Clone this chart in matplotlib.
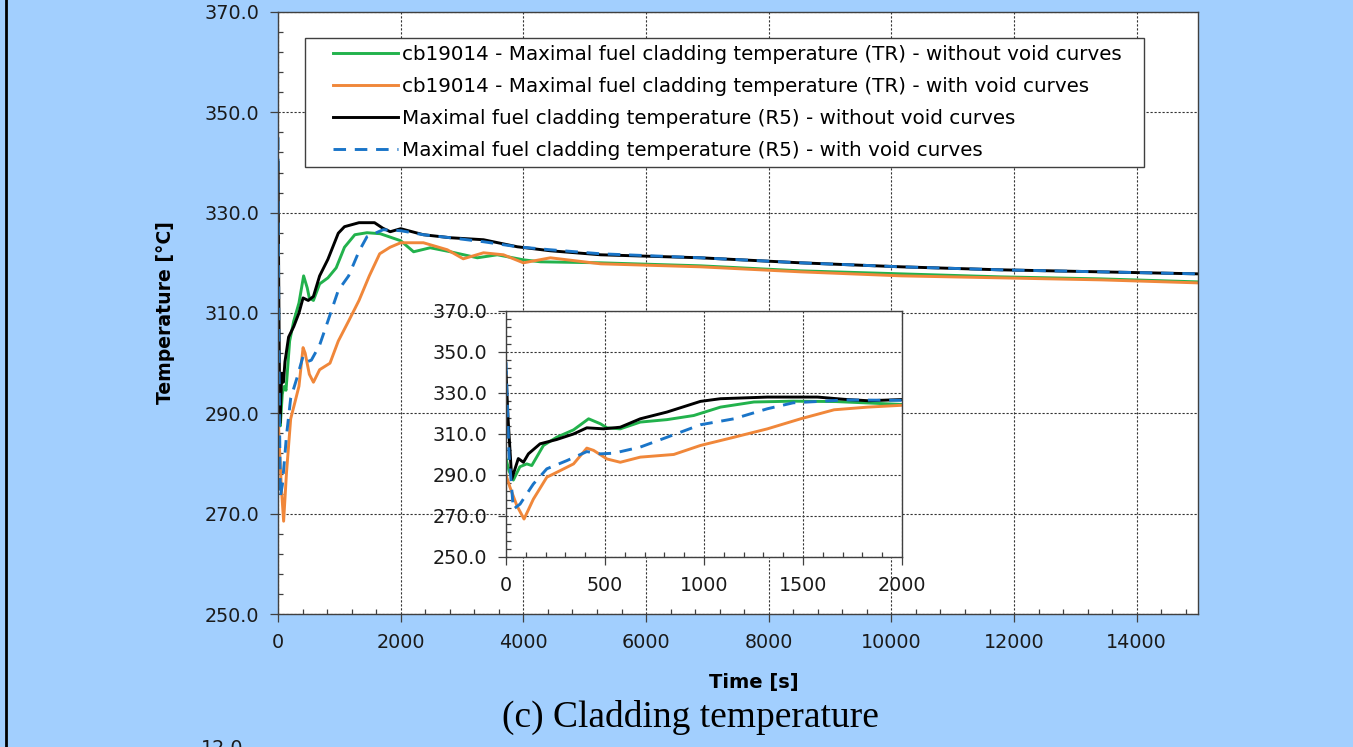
import matplotlib
matplotlib.use("Agg")
import matplotlib.pyplot as plt
from matplotlib.lines import Line2D
from matplotlib.legend_handler import HandlerLine2D
from matplotlib.ticker import MultipleLocator

# Maximal fuel cladding temperature [C] vs time [s]
t_tr_novoid = [0, 15, 37, 70, 105, 130, 189, 256, 341, 417, 476, 510, 577, 678, 813, 948,
               1083, 1252, 1450, 1666, 2000, 2210, 2480, 2810, 3250, 3575, 4000, 4280,
               5260, 6890, 8520, 10160, 11790, 13420, 15000]
T_tr_novoid = [298, 292, 287.5, 294, 295.4, 294.6, 304.4, 308.4, 312, 317.4, 315, 313, 312.5,
               315.8, 317, 319, 323.1, 325.6, 326, 325.8, 324.4, 322.2, 323, 322.2, 321,
               321.6, 320.6, 320.2, 320, 319.4, 318.4, 317.8, 317.2, 316.8, 316.2]

t_tr_void = [0, 20, 55, 91, 138, 206, 273, 341, 408, 442, 510, 577, 678, 847, 982, 1151,
             1320, 1488, 1657, 1826, 2000, 2370, 2760, 3020, 3350, 3675, 4000, 4440, 5260,
             6890, 8520, 10160, 11790, 13420, 15000]
T_tr_void = [290, 284, 275, 268.5, 278.2, 288.9, 292.1, 295.4, 303.1, 302, 297.8, 296.2,
             298.7, 300, 304.4, 308.4, 312.5, 317.4, 321.8, 323.1, 324, 324, 322.6, 320.8,
             322, 321.6, 320, 321, 319.8, 319.2, 318.2, 317.4, 317, 316.6, 316]

t_r5_novoid = [0, 10, 29, 62, 88, 113, 172, 256, 341, 408, 493, 577, 678, 813, 982, 1083,
               1320, 1573, 1708, 1830, 2000, 2370, 2810, 3350, 3900, 4440, 5260, 6890, 8520,
               10160, 11790, 13420, 15000]
T_r5_novoid = [340, 318, 288, 298, 296.2, 300.3, 305.2, 307.3, 310, 313, 312.5, 313.3, 317.4,
               320.7, 325.9, 327.2, 328, 328, 326.9, 326.2, 326.8, 325.6, 325, 324.6, 323.2,
               322.4, 321.6, 321, 320, 319.2, 318.6, 318.2, 317.8]

t_r5_void = [0, 15, 37, 71, 138, 206, 307, 408, 476, 543, 678, 813, 982, 1151, 1320, 1450,
             1715, 2000, 2370, 2810, 3350, 3900, 4440, 5260, 6890, 8520, 10160, 11790,
             13420, 15000]
T_r5_void = [345, 300, 273.3, 275.8, 285.6, 293, 297, 301.4, 300.3, 300.6, 303.6, 308.4,
             314.5, 317.4, 322.3, 325.2, 326.6, 326.4, 325.6, 325, 324.2, 323.2, 322.6,
             321.8, 321, 320, 319.2, 318.6, 318.2, 317.8]

labels = [
    "cb19014 - Maximal fuel cladding temperature (TR) - without void curves",
    "cb19014 - Maximal fuel cladding temperature (TR) - with void curves",
    "Maximal fuel cladding temperature (R5) - without void curves",
    "Maximal fuel cladding temperature (R5) - with void curves",
]
y_ticks = [250, 270, 290, 310, 330, 350, 370]

BG = "#a2cffe"
GREEN, ORANGE, BLUE = "#22b24c", "#f0873a", "#1a75c8"
SPINE = "#404040"

plt.rcParams["font.family"] = ["DejaVu Sans"]

fig = plt.figure(figsize=(13.53, 7.47), dpi=100, facecolor=BG)
ax = fig.add_axes([0.2055, 0.178, 0.680, 0.806])
ins = fig.add_axes([0.374, 0.2544, 0.2927, 0.3293])


def draw_series(a):
    a.plot(t_tr_novoid, T_tr_novoid, color=GREEN, lw=2.1, label=labels[0])
    a.plot(t_tr_void, T_tr_void, color=ORANGE, lw=2.1, label=labels[1])
    a.plot(t_r5_novoid, T_r5_novoid, color="black", lw=2.1, label=labels[2])
    a.plot(t_r5_void, T_r5_void, color=BLUE, lw=2.1, dashes=(4.3, 3.0), label=labels[3])


def style_axes(a, xmax, xmajor, xminor, fs):
    a.set_facecolor("white")
    a.set_xlim(0, xmax)
    a.set_ylim(250, 370)
    a.xaxis.set_major_locator(MultipleLocator(xmajor))
    a.xaxis.set_minor_locator(MultipleLocator(xminor))
    a.set_yticks(y_ticks)
    a.yaxis.set_minor_locator(MultipleLocator(4, offset=2))
    a.yaxis.set_major_formatter(lambda v, pos: f"{v:.1f}")
    a.tick_params(which="major", direction="out", length=6, width=0.9, color=SPINE,
                  labelsize=fs, pad=7.5, labelcolor="#1a1a1a")
    a.tick_params(which="minor", direction="in", length=3.5, width=0.9, color=SPINE)
    a.grid(True, which="major", color="#333333", lw=0.8, ls=(0, (2.0, 1.6)))
    for s in a.spines.values():
        s.set_color(SPINE)
        s.set_linewidth(1.0)


draw_series(ax)
style_axes(ax, 15000, 2000, 400, 13.8)
ax.set_xlabel("Time [s]", fontsize=14, fontweight="bold")
ax.xaxis.set_label_coords(0.517, -0.098)
ax.set_ylabel("Temperature [°C]", fontsize=13.6, fontweight="bold", labelpad=21)

draw_series(ins)
style_axes(ins, 2000, 500, 100, 13.8)


class OffsetLine(HandlerLine2D):
    """Legend line drawn in the right part of the handle box."""

    def create_artists(self, legend, orig_handle, xdescent, ydescent, width, height,
                       fontsize, trans):
        shift = 0.24 * width
        return super().create_artists(legend, orig_handle, xdescent - shift, ydescent,
                                      width - shift, height, fontsize, trans)


handles, lbls = ax.get_legend_handles_labels()
leg = ax.legend(handles, lbls, loc="upper left",
                bbox_to_anchor=(0.0294, 0.5, 0.9120, 0.4570), mode="expand",
                borderaxespad=0, borderpad=0.36, fontsize=14.3, handlelength=4.3,
                handletextpad=0.2, labelspacing=0.65, fancybox=False, framealpha=1,
                edgecolor=SPINE, handler_map={Line2D: OffsetLine()})
leg.get_frame().set_linewidth(1.0)
leg.set_zorder(5)

fig.text(0.510, 0.040, "(c) Cladding temperature", ha="center", va="center",
         fontsize=27, family="Liberation Serif")
fig.text(0.164, 0.011, "12.0", ha="center", va="top", fontsize=13.8, color="#1a1a1a")

# left frame edge of the page
fig.add_artist(Line2D([0.0046, 0.0046], [0, 1], transform=fig.transFigure,
                      color="black", lw=2.0))

fig.savefig("out.png", dpi=100, facecolor=BG)
